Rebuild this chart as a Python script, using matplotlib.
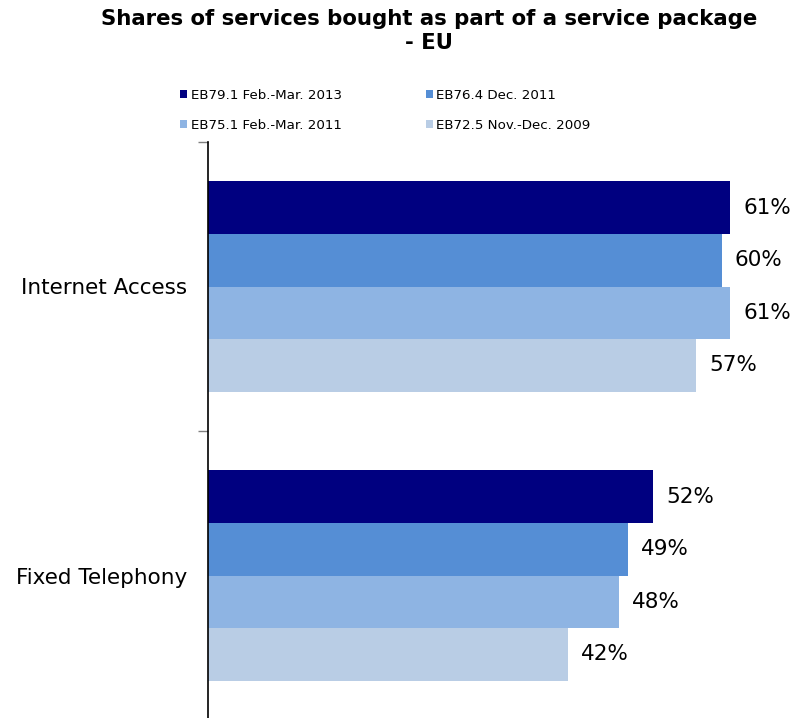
import matplotlib
matplotlib.use("Agg")
import matplotlib.pyplot as plt
import numpy as np

categories = ["Internet Access", "Fixed Telephony"]
series = ["EB79.1 Feb.-Mar. 2013", "EB76.4 Dec. 2011", "EB75.1 Feb.-Mar. 2011", "EB72.5 Nov.-Dec. 2009"]
values = {
    "EB79.1 Feb.-Mar. 2013": [61, 52],
    "EB76.4 Dec. 2011": [60, 49],
    "EB75.1 Feb.-Mar. 2011": [61, 48],
    "EB72.5 Nov.-Dec. 2009": [57, 42],
}
colors = ["#000080", "#558ED5", "#8EB4E3", "#B9CDE5"]

plt.rcParams['font.family'] = ['DejaVu Sans']
fig = plt.figure(figsize=(7.97, 7.18), dpi=100)
W, H = 797, 718
ax = fig.add_axes([208 / W, -2 / H, 585 / W, (720 - 142) / H])

h = 0.182
y = np.arange(len(categories))
handles = []
for i, s in enumerate(series):
    pos = y + (i - 1.5) * h
    b = ax.barh(pos, values[s], height=h, color=colors[i], label=s, linewidth=0)
    handles.append(b)
    for p, v in zip(pos, values[s]):
        ax.text(v + 1.5, p, f"{v}%", va="center", ha="left", fontsize=15.5, color="black")

ax.set_xlim(0, 68.3)
ax.set_ylim(1.5, -0.5)
ax.set_yticks(y)
ax.set_yticklabels(categories, fontsize=15.5)
ax.tick_params(axis="y", which="major", length=0, pad=15)
ax.set_yticks([-0.5, 0.5, 1.5], minor=True)
ax.tick_params(axis="y", which="minor", length=7, color="#808080", width=1)
ax.set_xticks([])
for sp in ["top", "right", "bottom"]:
    ax.spines[sp].set_visible(False)
ax.spines["left"].set_linewidth(1.2)

fig.text(429 / W, 1 - 31 / H, "Shares of services bought as part of a service package\n- EU",
         ha="center", va="center", fontsize=15.3, fontweight="bold", linespacing=1.3)

order = [0, 2, 1, 3]
leg = fig.legend(handles=[handles[k] for k in order], labels=[series[k] for k in order],
                 ncol=2, loc="upper left",
                 bbox_to_anchor=(180 / W, 1 - 89 / H), frameon=False, fontsize=9.6,
                 handlelength=0.55, handleheight=0.55, handletextpad=0.25,
                 columnspacing=6.3, labelspacing=1.25, borderaxespad=0, borderpad=0)

fig.savefig("out.png", dpi=100)
